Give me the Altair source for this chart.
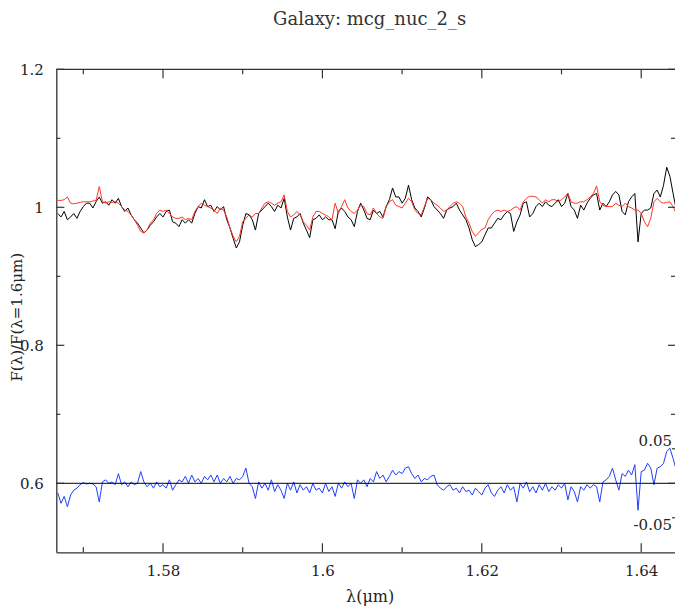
import altair as alt
import pandas as pd

# ---------------- data ----------------
title_text = ["Galaxy: mcg_nuc_2_s"]

wavelength = [
    1.5668, 1.5672, 1.5676, 1.5680, 1.5684, 1.5688, 1.5692, 1.5696, 1.5700, 1.5704,
    1.5708, 1.5712, 1.5716, 1.5720, 1.5724, 1.5728, 1.5732, 1.5736, 1.5740, 1.5744,
    1.5748, 1.5752, 1.5756, 1.5760, 1.5764, 1.5768, 1.5772, 1.5776, 1.5780, 1.5784,
    1.5788, 1.5792, 1.5796, 1.5800, 1.5804, 1.5808, 1.5812, 1.5816, 1.5820, 1.5824,
    1.5828, 1.5832, 1.5836, 1.5840, 1.5844, 1.5848, 1.5852, 1.5856, 1.5860, 1.5864,
    1.5868, 1.5872, 1.5876, 1.5880, 1.5884, 1.5888, 1.5892, 1.5896, 1.5900, 1.5904,
    1.5908, 1.5912, 1.5916, 1.5920, 1.5924, 1.5928, 1.5932, 1.5936, 1.5940, 1.5944,
    1.5948, 1.5952, 1.5956, 1.5960, 1.5964, 1.5968, 1.5972, 1.5976, 1.5980, 1.5984,
    1.5988, 1.5992, 1.5996, 1.6000, 1.6004, 1.6008, 1.6012, 1.6016, 1.6020, 1.6024,
    1.6028, 1.6032, 1.6036, 1.6040, 1.6044, 1.6048, 1.6052, 1.6056, 1.6060, 1.6064,
    1.6068, 1.6072, 1.6076, 1.6080, 1.6084, 1.6088, 1.6092, 1.6096, 1.6100, 1.6104,
    1.6108, 1.6112, 1.6116, 1.6120, 1.6124, 1.6128, 1.6132, 1.6136, 1.6140, 1.6144,
    1.6148, 1.6152, 1.6156, 1.6160, 1.6164, 1.6168, 1.6172, 1.6176, 1.6180, 1.6184,
    1.6188, 1.6192, 1.6196, 1.6200, 1.6204, 1.6208, 1.6212, 1.6216, 1.6220, 1.6224,
    1.6228, 1.6232, 1.6236, 1.6240, 1.6244, 1.6248, 1.6252, 1.6256, 1.6260, 1.6264,
    1.6268, 1.6272, 1.6276, 1.6280, 1.6284, 1.6288, 1.6292, 1.6296, 1.6300, 1.6304,
    1.6308, 1.6312, 1.6316, 1.6320, 1.6324, 1.6328, 1.6332, 1.6336, 1.6340, 1.6344,
    1.6348, 1.6352, 1.6356, 1.6360, 1.6364, 1.6368, 1.6372, 1.6376, 1.6380, 1.6384,
    1.6388, 1.6392, 1.6396, 1.6400, 1.6404, 1.6408, 1.6412, 1.6416, 1.6420, 1.6424,
    1.6428, 1.6432, 1.6436, 1.6440, 1.6444, 1.6448, 1.6452, 1.6456,
]

observed = [
    0.991, 0.986, 0.994, 0.982, 0.986, 0.991, 0.984, 0.994, 1.001, 1.006,
    1.006, 0.999, 1.008, 1.015, 1.006, 1.008, 1.003, 1.011, 1.006, 1.013,
    1.001, 0.994, 0.999, 0.989, 0.982, 0.977, 0.970, 0.963, 0.967, 0.974,
    0.979, 0.986, 0.991, 0.986, 0.994, 0.996, 0.979, 0.977, 0.972, 0.982,
    0.977, 0.982, 0.977, 0.991, 1.001, 0.999, 1.011, 1.001, 1.003, 0.994,
    1.001, 0.996, 1.001, 0.982, 0.970, 0.955, 0.941, 0.950, 0.974, 0.991,
    0.989, 0.982, 0.967, 0.991, 0.996, 1.001, 1.006,
    1.001, 0.994, 1.003, 0.999, 1.013, 0.986, 0.967, 0.984, 0.986, 0.991,
    0.977, 0.967, 0.956, 0.982, 0.984, 0.989, 0.982, 0.986, 0.982, 0.982,
    0.969, 0.994, 0.999, 0.994, 0.986, 0.982, 0.972, 0.994, 1.006, 0.996,
    0.984, 0.982, 0.996, 0.991, 0.994, 0.986, 1.001, 1.011, 1.028, 1.015,
    1.015, 1.006, 1.013, 1.032, 1.011, 0.999, 0.994, 0.986, 0.999, 1.015,
    1.011, 1.001, 0.996, 0.991, 0.984, 0.996, 0.999, 1.001, 1.006, 0.996,
    0.989, 0.982, 0.970, 0.953, 0.943, 0.946,
    0.950, 0.960, 0.970, 0.970, 0.977, 0.984, 0.982, 0.989, 0.994, 0.991,
    0.965, 0.979, 0.989, 1.006, 1.008, 0.986, 0.991, 1.001, 1.006, 1.001,
    1.008, 1.003, 1.001, 1.006, 1.011, 1.001, 1.006, 1.020, 1.001, 0.996,
    0.984, 1.003, 0.996, 1.006, 1.013, 1.018, 1.020, 0.996, 1.006, 1.001,
    1.008, 1.018, 1.023, 1.018, 0.994, 0.989, 1.008, 1.015, 1.020, 0.950,
    0.991, 0.996, 0.996, 0.999, 1.020, 1.025, 1.015, 1.032, 1.058, 1.045,
    1.020, 0.996, 0.989, 0.974, 0.967,
]

model = [
    1.010, 1.010, 1.011, 1.015, 1.006, 1.005, 1.006, 1.007, 1.008, 1.008,
    1.008, 1.009, 1.010, 1.030, 1.008, 1.006, 1.008, 1.007, 1.008, 1.006,
    1.001, 0.996, 0.994, 0.989, 0.982, 0.974, 0.965, 0.963, 0.967, 0.977,
    0.982, 0.991, 0.996, 0.994, 0.996, 0.991, 0.986, 0.984, 0.984, 0.986,
    0.982, 0.984, 0.982, 0.994, 1.001, 1.006, 1.003, 1.001, 0.999, 0.996,
    0.991, 0.999, 0.996, 0.986, 0.970, 0.958, 0.950, 0.958, 0.979, 0.984,
    0.989, 0.986, 0.991, 0.991, 0.999, 1.006, 1.008,
    1.006, 1.003, 1.006, 1.008, 1.018, 0.994, 0.986, 0.989, 0.994, 0.989,
    0.979, 0.974, 0.967, 0.986, 0.994, 0.994, 0.991, 0.989, 0.986, 0.982,
    1.006, 0.991, 1.001, 1.011, 0.999, 0.994, 0.991, 0.996, 1.003, 1.001,
    0.991, 0.989, 0.999, 0.991, 0.986, 0.984, 1.001, 1.008, 1.011, 1.003,
    1.001, 0.999, 1.006, 1.013, 1.008, 0.996, 0.991, 0.989, 1.001, 1.013,
    1.011, 1.006, 1.003, 0.999, 0.994, 0.996, 1.001, 1.006, 1.008, 1.006,
    1.001, 0.986, 0.977, 0.965, 0.958, 0.963,
    0.968, 0.970, 0.982, 0.989, 0.994, 0.996, 0.994, 0.996, 0.994, 0.996,
    0.999, 1.001, 0.996, 1.008, 1.013, 1.016, 1.016, 1.015, 1.011, 1.006,
    1.011, 1.008, 1.011, 1.011, 1.008, 1.011, 1.015, 1.020, 1.008, 1.006,
    1.006, 1.008, 1.008, 1.011, 1.015, 1.020, 1.031, 1.008, 1.003, 1.001,
    1.001, 1.001, 1.006, 1.003, 1.001, 1.006, 1.001, 0.999, 0.996, 0.996,
    0.991, 0.979, 0.972, 0.984, 1.008, 1.013, 1.008, 1.006, 1.007, 1.008,
    1.001, 0.991, 0.982, 0.972, 0.970,
]

# residuals, plotted offset to the 0.6 level
residual = [
    0.586, 0.571, 0.581, 0.566, 0.583, 0.590, 0.593, 0.598, 0.601, 0.599,
    0.600, 0.599, 0.595, 0.573, 0.602, 0.605, 0.600, 0.602, 0.598, 0.614,
    0.598, 0.602, 0.595, 0.602, 0.598, 0.600, 0.617, 0.602, 0.595, 0.600,
    0.593, 0.602, 0.595, 0.598, 0.593, 0.605, 0.590, 0.598, 0.605, 0.602,
    0.610, 0.600, 0.612, 0.602, 0.607, 0.600, 0.610, 0.605, 0.612, 0.602,
    0.612, 0.600, 0.607, 0.602, 0.610, 0.600, 0.607, 0.605, 0.610, 0.622,
    0.600, 0.595, 0.578, 0.602, 0.593, 0.600, 0.590, 0.605, 0.588, 0.598,
    0.590, 0.578, 0.600, 0.590, 0.602, 0.586, 0.598, 0.590, 0.595, 0.586,
    0.600, 0.590, 0.593, 0.586, 0.600, 0.588, 0.595, 0.581, 0.600, 0.593,
    0.602, 0.595, 0.600, 0.578, 0.605, 0.600, 0.605, 0.595, 0.607, 0.602,
    0.617, 0.607, 0.612, 0.602, 0.610, 0.619, 0.612, 0.617, 0.614, 0.622,
    0.624, 0.614, 0.607, 0.612, 0.602, 0.607, 0.605, 0.610, 0.612, 0.598,
    0.593, 0.590, 0.595, 0.598, 0.590, 0.593, 0.586, 0.595, 0.588, 0.590,
    0.583, 0.593, 0.588, 0.583, 0.593, 0.598, 0.586, 0.581, 0.590, 0.595,
    0.586, 0.598, 0.590, 0.595, 0.573, 0.600, 0.593, 0.602, 0.588, 0.595,
    0.586, 0.598, 0.590, 0.600, 0.588, 0.595, 0.590, 0.598, 0.593, 0.600,
    0.576, 0.595, 0.588, 0.573, 0.595, 0.590, 0.598, 0.593, 0.598, 0.595,
    0.573, 0.602, 0.605, 0.610, 0.622, 0.605, 0.590, 0.614, 0.610, 0.619,
    0.612, 0.627, 0.561, 0.617, 0.619, 0.629, 0.622, 0.598, 0.622, 0.624,
    0.629, 0.646, 0.651, 0.636, 0.619, 0.605, 0.593, 0.590,
]

x_major = [1.58, 1.60, 1.62, 1.64]
x_minor = [1.57, 1.59, 1.61, 1.63]
y_major = [0.6, 0.8, 1.0, 1.2]
y_minor = [0.7, 0.9, 1.1]
zero_level = [0.6]
resid_pos_tick, resid_pos_label = [0.65], ["0.05"]
resid_neg_tick, resid_neg_label = [0.55], ["-0.05"]
x_domain = [1.56661, 1.64424]
y_domain = [0.5, 1.2]

# ---------------- layout / style ----------------
W, H = 618.7, 483
FONT = "DejaVu Serif"
TXT = "#222222"
AX = "#333333"

xs = alt.Scale(domain=x_domain, nice=False, zero=False)
ys = alt.Scale(domain=y_domain, nice=False, zero=False)

df = pd.DataFrame({"lam": wavelength, "obs": observed, "model": model, "resid": residual})

X_AXIS = alt.Axis(
    values=x_major, format=".2~f", ticks=False, tickSize=0, grid=False,
    domain=True, domainColor=AX, domainWidth=1.3, labelFlush=False, labelOverlap=False,
    labelFont=FONT, labelFontSize=15, labelColor=TXT, labelPadding=11,
    title="λ(μm)", titleFont=FONT, titleFontSize=16, titleFontWeight="normal",
    titleColor=TXT, titleX=W / 2 + 4, titleY=44, titleAlign="center", titleBaseline="middle",
)
Y_AXIS = alt.Axis(
    values=y_major, format=".2~f", ticks=False, tickSize=0, grid=False,
    domain=True, domainColor=AX, domainWidth=1.3, labelFlush=False, labelOverlap=False,
    labelFont=FONT, labelFontSize=15, labelColor=TXT, labelPadding=13,
    title="F(λ)/F(λ=1.6μm)", titleFont=FONT, titleFontSize=15, titleFontWeight="normal",
    titleColor=TXT, titleX=-40, titleY=H / 2 + 6, titleAngle=270,
    titleAlign="center", titleBaseline="middle",
)


def X(field):
    return alt.X(field, type="quantitative", scale=xs, axis=X_AXIS)


def Y(field):
    return alt.Y(field, type="quantitative", scale=ys, axis=Y_AXIS)


obs_line = alt.Chart(df).mark_line(color="#000000", strokeWidth=1, clip=True).encode(
    x=X("lam"), y=Y("obs")
)
model_line = alt.Chart(df).mark_line(color="#ff3324", strokeWidth=1, clip=True).encode(
    x=X("lam"), y=Y("model")
)
resid_line = alt.Chart(df).mark_line(color="#1f3dff", strokeWidth=1, clip=True).encode(
    x=X("lam"), y=Y("resid")
)
zero_rule = alt.Chart(pd.DataFrame({"v": zero_level})).mark_rule(color="#000000", strokeWidth=1).encode(
    y=Y("v"), x=alt.value(0), x2=alt.value(W)
)
top_frame = alt.Chart(pd.DataFrame({"v": [max(y_domain)]})).mark_rule(color=AX, strokeWidth=1.3).encode(
    y=Y("v"), x=alt.value(0), x2=alt.value(W)
)


def xticks(vals, y0, y1):
    return alt.Chart(pd.DataFrame({"v": vals})).mark_rule(color=AX, strokeWidth=1.2).encode(
        x=X("v"), y=alt.value(y0), y2=alt.value(y1)
    )


def yticks(vals, x0, x1):
    return alt.Chart(pd.DataFrame({"v": vals})).mark_rule(color=AX, strokeWidth=1.2).encode(
        y=Y("v"), x=alt.value(x0), x2=alt.value(x1)
    )


tick_layers = [
    xticks(x_major, H, H - 9), xticks(x_minor, H, H - 5),
    xticks(x_major, 0, 9), xticks(x_minor, 0, 5),
    yticks(y_major, 0, 8), yticks(y_minor, 0, 4),
    yticks(y_major, W - 7, W), yticks(y_minor, W - 4, W),
    yticks(resid_pos_tick + resid_neg_tick, W - 3, W),
]

pos_label = alt.Chart(pd.DataFrame({"v": resid_pos_tick, "t": resid_pos_label})).mark_text(
    font=FONT, fontSize=15, color=TXT, align="right", baseline="alphabetic", dy=-3
).encode(y=Y("v"), x=alt.value(W - 3), text="t:N")
neg_label = alt.Chart(pd.DataFrame({"v": resid_neg_tick, "t": resid_neg_label})).mark_text(
    font=FONT, fontSize=15, color=TXT, align="right", baseline="top", dy=0
).encode(y=Y("v"), x=alt.value(W - 3), text="t:N")

title_mark = alt.Chart(pd.DataFrame({"t": title_text})).mark_text(
    font=FONT, fontSize=18, color="#333333", align="center", baseline="alphabetic"
).encode(x=alt.value(W / 2 + 4), y=alt.value(-44), text="t:N")

chart = alt.layer(
    obs_line, model_line, resid_line, zero_rule, top_frame, *tick_layers,
    pos_label, neg_label, title_mark,
).properties(
    width=W,
    height=H,
    autosize=alt.AutoSizeParams(type="none"),
    padding={"left": 48.3, "top": 61.3, "right": 0, "bottom": 55.5},
).configure_view(strokeOpacity=0)

chart.save("out.html", embed_options={"renderer": "svg", "actions": False})
